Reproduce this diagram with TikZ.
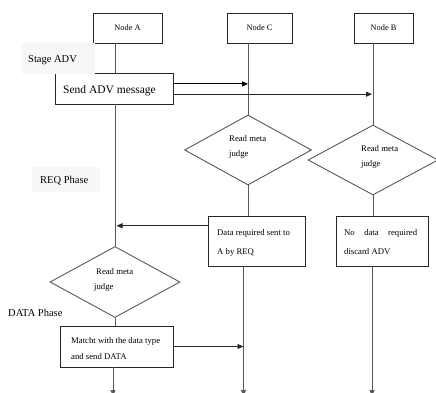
\documentclass[tikz,border=0pt]{standalone}
\usepackage{fontspec}
\setmainfont{Liberation Serif}
\usetikzlibrary{shapes.geometric,arrows.meta,calc}
\begin{document}
\begin{tikzpicture}[x=1pt,y=-1pt,
  box/.style={draw=black!85, line width=0.8pt, fill=white, inner sep=0pt},
  life/.style={draw=black!65, line width=0.9pt},
  tip/.style={-{Triangle[length=6pt,width=5pt]}},
  msg/.style={draw=black!85, line width=0.9pt, tip},
  dia/.style={draw=black!65, line width=0.9pt, shape=diamond, inner sep=0pt, fill=white},
  lbl/.style={font=\fontsize{10.5}{12}\selectfont, inner sep=0pt, anchor=base west},
  txt/.style={font=\fontsize{8.7}{10}\selectfont, inner sep=0pt, anchor=base west},
  head/.style={box, font=\fontsize{8.3}{10}\selectfont, minimum height=30pt},
  phasebg/.style={fill=black!3, draw=none, inner sep=0pt},
]
\useasboundingbox (0,0) rectangle (436,393);

% head boxes
\node[head, minimum width=69pt] (nA) at (127.5,28) {Node A};
\node[head, minimum width=65pt] (nC) at (259.5,28) {Node C};
\node[head, minimum width=59pt] (nB) at (383.5,28) {Node B};

% end coordinates of lifelines
\coordinate (endA) at (113,396);
\coordinate (endC) at (243.5,396);
\coordinate (endB) at (372,396);

% boxes
\node[box, minimum width=118pt, minimum height=31pt] (send) at (114,88.5) {};
\node[box, minimum width=97pt, minimum height=50pt] (rC) at (256.5,241) {};
\node[box, minimum width=92pt, minimum height=50pt] (rB) at (382,241) {};
\node[box, minimum width=113pt, minimum height=41pt] (mA) at (116.5,346.5) {};

% diamonds
\node[dia, minimum width=127pt, minimum height=70pt] (dC) at (248,150) {};
\node[dia, minimum width=130pt, minimum height=70pt] (dB) at (373,160) {};
\node[dia, minimum width=130pt, minimum height=71pt] (dA) at (115,282) {};

% phase labels (with faint backgrounds)
\node[phasebg, minimum width=73pt, minimum height=30.5pt] (stagebg) at (58.5,58.5) {};
\node[lbl] (stage) at (28,62.5) {Stage ADV};
\node[phasebg, minimum width=68pt, minimum height=25pt] (reqbg) at (66,179.5) {};
\node[lbl] (req) at (40,183.5) {REQ Phase};
\node[lbl] (data) at (8,316.5) {DATA Phase};

% texts
\node[txt, font=\fontsize{11.5}{13}\selectfont] (sendt) at (63,93.8) {Send ADV message};
\node[txt] (dCt1) at (229,142) {Read meta};
\node[txt] (dCt2) at (229,157) {judge};
\node[txt] (dBt1) at (361,151.5) {Read meta};
\node[txt] (dBt2) at (361,166) {judge};
\node[txt] (dAt1) at (96,274) {Read meta};
\node[txt] (dAt2) at (94,289) {judge};
\node[txt] (rCt1) at (217,235) {Data required sent to};
\node[txt] (rCt2) at (217,254.5) {A by REQ};
\node[txt] (rBt1) at (344,235) {\hbox to 73pt{No\hfill data\hfill required}};
\node[txt] (rBt2) at (344,254.5) {discard ADV};
\node[txt] (mAt1) at (71,343.5) {Matcht with the data type};
\node[txt] (mAt2) at (71,359) {and send DATA};

% lifeline A
\draw[life] (nA.south -| dA.north) -- (send.north -| dA.north);
\draw[life] (send.south -| dA.north) -- (dA.north);
\draw[life] (dA.south) -- (mA.north -| dA.south);
\draw[life, tip] (mA.south -| endA) -- (endA);

% lifeline C
\draw[life] (nC.south -| dC.north) -- (dC.north);
\draw[life] (dC.south) -- (rC.north -| dC.south);
\draw[life, tip] (rC.south -| endC) -- (endC);

% lifeline B
\draw[life] (nB.south -| dB.north) -- (dB.north);
\draw[life] (dB.south) -- (rB.north -| dB.south);
\draw[life, tip] (rB.south -| endB) -- (endB);

% messages
\coordinate (s1) at ($(send.north east)!0.355!(send.south east)$);
\coordinate (s2) at ($(send.north east)!0.68!(send.south east)$);
\coordinate (r1) at ($(rC.north west)!0.2!(rC.south west)$);
\draw[msg, draw=black] (s1) -- (s1 -| dC.north);
\draw[msg] (s2) -- (s2 -| endB);
\draw[msg, shorten >=1.5pt] (r1) -- (r1 -| dA.north);
\draw[msg] (mA.east) -- (mA.east -| endC);
\end{tikzpicture}
\end{document}
